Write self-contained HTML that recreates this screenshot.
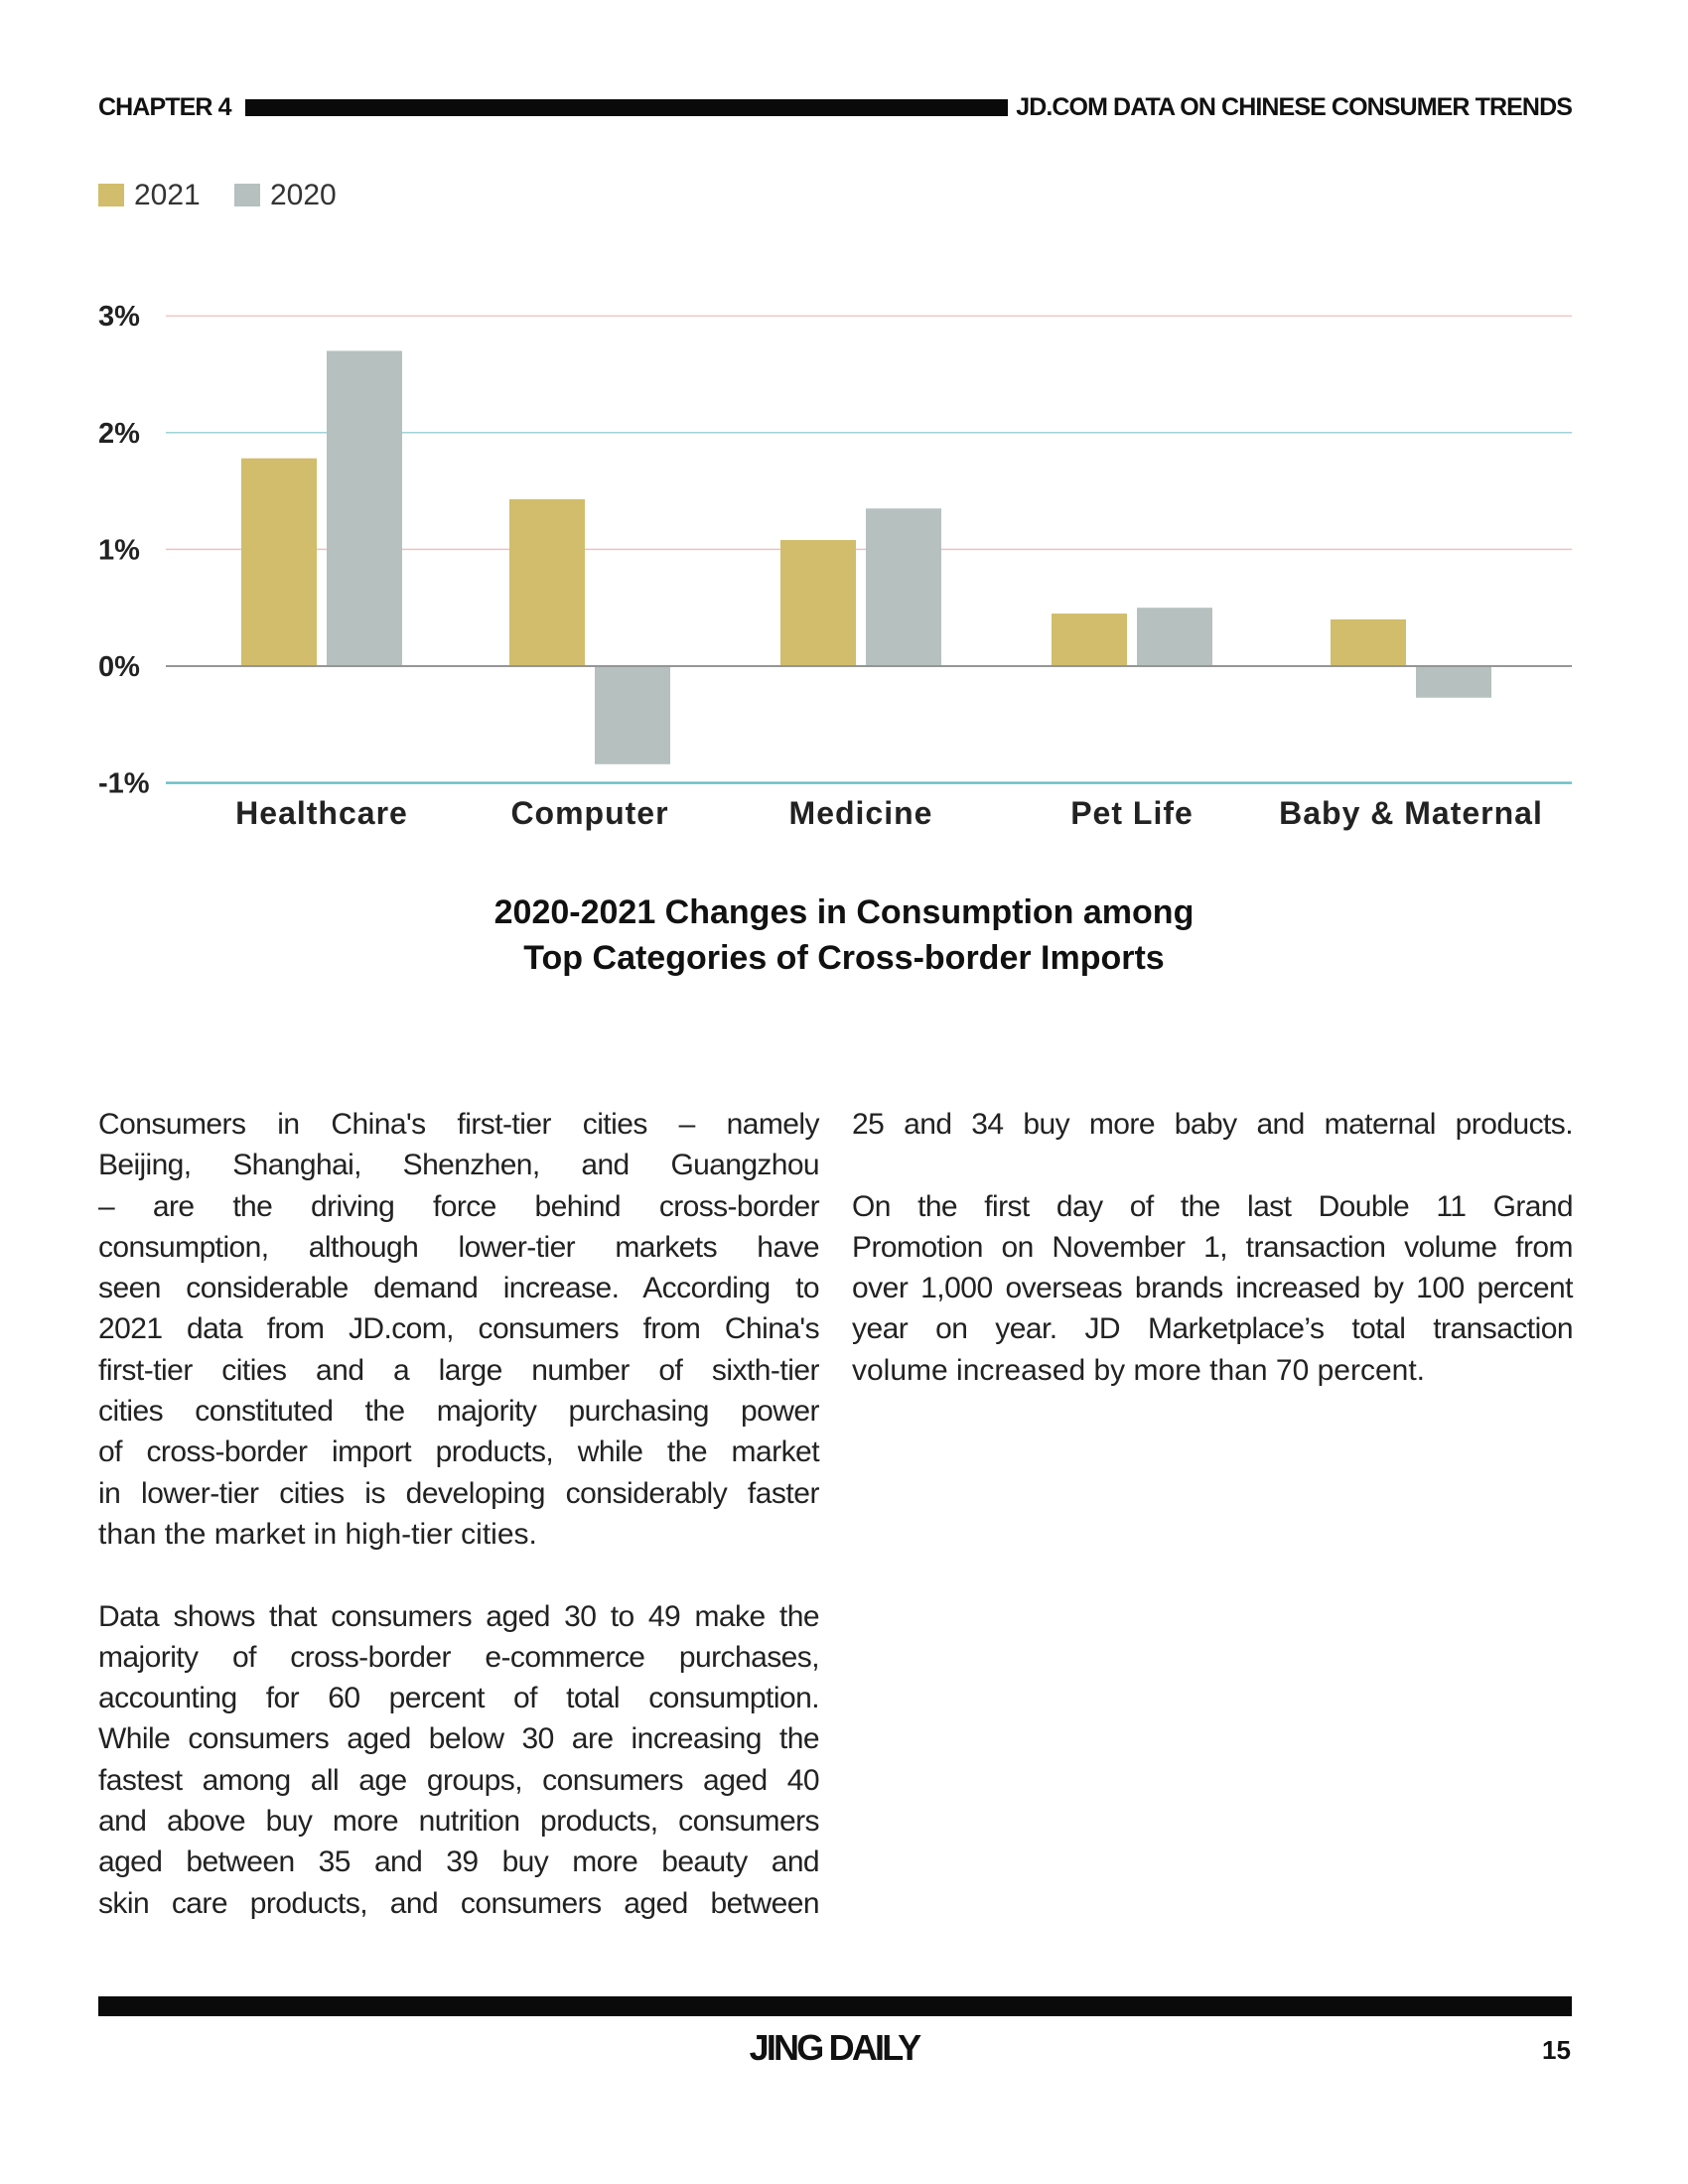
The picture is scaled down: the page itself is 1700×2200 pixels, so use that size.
<!DOCTYPE html>
<html><head><meta charset="utf-8">
<style>
body{margin:0;width:1700px;height:2200px;background:#fff;position:relative;font-family:"Liberation Sans",sans-serif;color:#222;overflow:hidden}
.abs{position:absolute}
.hdr{font-weight:bold;font-size:25px;letter-spacing:-0.9px;top:94px;color:#111}
.col{position:absolute;width:726px;font-size:30px;line-height:41.3px;color:#222}
.col div{text-align:justify;text-align-last:justify;white-space:nowrap;height:41.3px}
.col div.l{text-align-last:left}
.col div.g{height:41.3px}
</style></head><body>
<div class="abs hdr" style="left:99px">CHAPTER 4</div>
<div class="abs" style="left:247px;top:100px;width:768px;height:17px;background:#0a0a0a"></div>
<div class="abs hdr" style="right:117px">JD.COM DATA ON CHINESE CONSUMER TRENDS</div>

<div class="abs" style="left:99px;top:185px;width:26px;height:23px;background:#d1bd6b"></div>
<div class="abs" style="left:135px;top:180px;font-size:30px;color:#333">2021</div>
<div class="abs" style="left:236px;top:185px;width:26px;height:23px;background:#b5c0bf"></div>
<div class="abs" style="left:272px;top:180px;font-size:30px;color:#333">2020</div>

<svg class="abs" style="left:0;top:0" width="1700" height="1000" id="chart"></svg>

<div class="abs" style="left:0;width:1700px;top:896px;text-align:center;font-size:34px;font-weight:bold;line-height:46px;color:#111">2020-2021 Changes in Consumption among<br>Top Categories of Cross-border Imports</div>

<div class="col" style="left:99px;top:1112px">
<div>Consumers in China's first-tier cities – namely</div>
<div>Beijing, Shanghai, Shenzhen, and Guangzhou</div>
<div>– are the driving force behind cross-border</div>
<div>consumption, although lower-tier markets have</div>
<div>seen considerable demand increase. According to</div>
<div>2021 data from JD.com, consumers from China's</div>
<div>first-tier cities and a large number of sixth-tier</div>
<div>cities constituted the majority purchasing power</div>
<div>of cross-border import products, while the market</div>
<div>in lower-tier cities is developing considerably faster</div>
<div class="l">than the market in high-tier cities.</div>
<div class="g"></div>
<div>Data shows that consumers aged 30 to 49 make the</div>
<div>majority of cross-border e-commerce purchases,</div>
<div>accounting for 60 percent of total consumption.</div>
<div>While consumers aged below 30 are increasing the</div>
<div>fastest among all age groups, consumers aged 40</div>
<div>and above buy more nutrition products, consumers</div>
<div>aged between 35 and 39 buy more beauty and</div>
<div>skin care products, and consumers aged between</div>
</div>
<div class="col" style="left:858px;top:1112px">
<div>25 and 34 buy more baby and maternal products.</div>
<div class="g"></div>
<div>On the first day of the last Double 11 Grand</div>
<div>Promotion on November 1, transaction volume from</div>
<div>over 1,000 overseas brands increased by 100 percent</div>
<div>year on year. JD Marketplace’s total transaction</div>
<div class="l">volume increased by more than 70 percent.</div>
</div>

<div class="abs" style="left:99px;top:2011px;width:1484px;height:20px;background:#0a0a0a"></div>
<div class="abs" style="left:0;width:1680px;text-align:center;top:2042px;font-size:36px;font-weight:bold;letter-spacing:-2.8px;color:#111">JING DAILY</div>
<div class="abs" style="left:1553px;top:2050px;font-size:26px;font-weight:bold;color:#111">15</div>

<script>
const categories=["Healthcare","Computer","Medicine","Pet Life","Baby & Maternal"];
const values2021=[1.78,1.43,1.08,0.45,0.40];
const values2020=[2.70,-0.84,1.35,0.50,-0.27];
const yTicks=[3,2,1,0,-1];
const yTickLabels=["3%","2%","1%","0%","-1%"];
const svg=document.getElementById('chart');
const NS="http://www.w3.org/2000/svg";
const x0=167,x1=1583,yZero=671,perUnit=117.6;
const y=v=>yZero-v*perUnit;
const centers=[324,594,867,1140,1421];
const xc=i=>centers[i];
function mk(t,a){const e=document.createElementNS(NS,t);for(const k in a)e.setAttribute(k,a[k]);svg.appendChild(e);return e;}
const gridCols={"3":"#f0c8c8","2":"#9fd3d8","1":"#f0c0c0","0":"#888","-1":"#6cc0c8"};
yTicks.forEach((t,i)=>{
  const l=mk('line',{x1:x0,x2:x1,y1:y(t),y2:y(t),stroke:gridCols[String(t)],'stroke-width':t===-1?2.5:1.5});
  
  
  const tx=mk('text',{x:99,y:y(t)+10,'font-size':29,'font-weight':'bold','fill':'#222','font-family':'Liberation Sans, sans-serif'});
  tx.textContent=yTickLabels[i];
  
  
});
const bw=76,gap=10;
categories.forEach((c,i)=>{
  const cx=xc(i);
  const a=values2021[i],b=values2020[i];
  const r1=mk('rect',{x:cx-gap/2-bw,y:Math.min(y(a),yZero),width:bw,height:Math.abs(y(a)-yZero),fill:'#d1bd6b'});
  
  
  const r2=mk('rect',{x:cx+gap/2,y:Math.min(y(b),yZero),width:bw,height:Math.abs(y(b)-yZero),fill:'#b5c0bf'});
  
  
  const t=mk('text',{x:cx,y:830,'text-anchor':'middle','font-size':32,'font-weight':'bold','fill':'#222','font-family':'Liberation Sans, sans-serif','letter-spacing':'1'});
  t.textContent=c;
  
  
});
mk('line',{x1:x0,x2:x1,y1:yZero,y2:yZero,stroke:'#888','stroke-width':1.5});

// fit body lines: shrink letter-spacing if a line overflows the column
document.querySelectorAll('.col div').forEach(d=>{
  if(!d.textContent)return;
  const s=document.createElement('span');s.textContent=d.textContent;s.style.whiteSpace='nowrap';
  d.textContent='';d.appendChild(s);
  const w=s.getBoundingClientRect().width, n=s.textContent.length;
  const txt=s.textContent; d.textContent=txt;
  if(w>700){d.style.letterSpacing=((700-w)/n)+'px';}
});
</script>
</body></html>
